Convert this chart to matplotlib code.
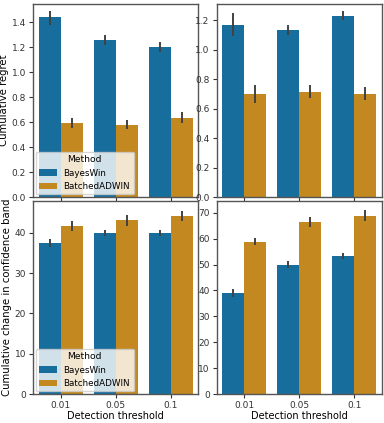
import numpy as np
import matplotlib
matplotlib.use("Agg")
import matplotlib.pyplot as plt
import seaborn as sns

# Data
thresholds = ["0.01", "0.05", "0.1"]
methods = ["BayesWin", "BatchedADWIN"]

# top-left: cumulative regret, scenario A
regret_a = {"BayesWin": [1.44, 1.26, 1.20], "BatchedADWIN": [0.595, 0.58, 0.635]}
regret_a_lo = {"BayesWin": [1.38, 1.22, 1.16], "BatchedADWIN": [0.555, 0.545, 0.59]}
regret_a_hi = {"BayesWin": [1.49, 1.30, 1.24], "BatchedADWIN": [0.635, 0.62, 0.68]}

# top-right: cumulative regret, scenario B
regret_b = {"BayesWin": [1.17, 1.135, 1.23], "BatchedADWIN": [0.70, 0.71, 0.70]}
regret_b_lo = {"BayesWin": [1.09, 1.10, 1.20], "BatchedADWIN": [0.64, 0.67, 0.66]}
regret_b_hi = {"BayesWin": [1.25, 1.17, 1.26], "BatchedADWIN": [0.76, 0.76, 0.745]}

# bottom-left: cumulative change in confidence band, scenario A
band_a = {"BayesWin": [37.5, 40.0, 40.0], "BatchedADWIN": [41.7, 43.1, 44.1]}
band_a_lo = {"BayesWin": [36.5, 39.2, 39.3], "BatchedADWIN": [40.5, 41.8, 42.8]}
band_a_hi = {"BayesWin": [38.5, 40.8, 40.8], "BatchedADWIN": [43.0, 44.3, 45.5]}

# bottom-right: cumulative change in confidence band, scenario B
band_b = {"BayesWin": [39.0, 50.0, 53.3], "BatchedADWIN": [58.7, 66.3, 68.8]}
band_b_lo = {"BayesWin": [37.6, 48.6, 52.0], "BatchedADWIN": [57.5, 64.5, 67.0]}
band_b_hi = {"BayesWin": [40.4, 51.5, 54.6], "BatchedADWIN": [60.3, 68.2, 71.0]}

pal = sns.color_palette("colorblind", 2)
colors = [sns.desaturate(c, 0.75) for c in pal]

fig, axs = plt.subplots(2, 2, figsize=(3.84, 4.23), dpi=100, sharex=True)
fig.subplots_adjust(left=33/384, right=382/384, top=1-4/423, bottom=1-394/423,
                    wspace=0.11, hspace=0.02)

def draw(ax, vals, lo, hi, ymax):
    x = np.arange(len(thresholds))
    w = 0.4
    for i, m in enumerate(methods):
        pos = x - 0.2 + i * w
        v = np.array(vals[m])
        err = [v - np.array(lo[m]), np.array(hi[m]) - v]
        ax.bar(pos, v, width=w, color=colors[i], label=m, edgecolor="none")
        ax.errorbar(pos, v, yerr=err, fmt="none", ecolor="#424242", elinewidth=1.4, capsize=0)
    ax.set_xlim(-0.5, 2.5)
    ax.set_ylim(0, ymax)
    ax.set_xticks(x)
    ax.set_xticklabels(thresholds)
    ax.tick_params(length=3, width=0.8, colors="#333333", labelsize=6.5, pad=2)
    for s in ax.spines.values():
        s.set_color("#555555")
        s.set_linewidth(1.0)

draw(axs[0, 0], regret_a, regret_a_lo, regret_a_hi, 1.545)
draw(axs[0, 1], regret_b, regret_b_lo, regret_b_hi, 1.31)
draw(axs[1, 0], band_a, band_a_lo, band_a_hi, 47.9)
draw(axs[1, 1], band_b, band_b_lo, band_b_hi, 74.6)

axs[0, 0].set_ylabel("Cumulative regret", fontsize=7.3, labelpad=2)
axs[1, 0].set_ylabel("Cumulative change in confidence band", fontsize=7.3, labelpad=2)
axs[1, 0].set_xlabel("Detection threshold", fontsize=7, labelpad=1)
axs[1, 1].set_xlabel("Detection threshold", fontsize=7, labelpad=1)

for ax in (axs[0, 0], axs[1, 0]):
    ax.legend(title="Method", loc="lower left", fontsize=6.3, title_fontsize=6.6,
              framealpha=0.8, borderaxespad=0.3, handlelength=2.0)

fig.savefig("out.png", dpi=100)
